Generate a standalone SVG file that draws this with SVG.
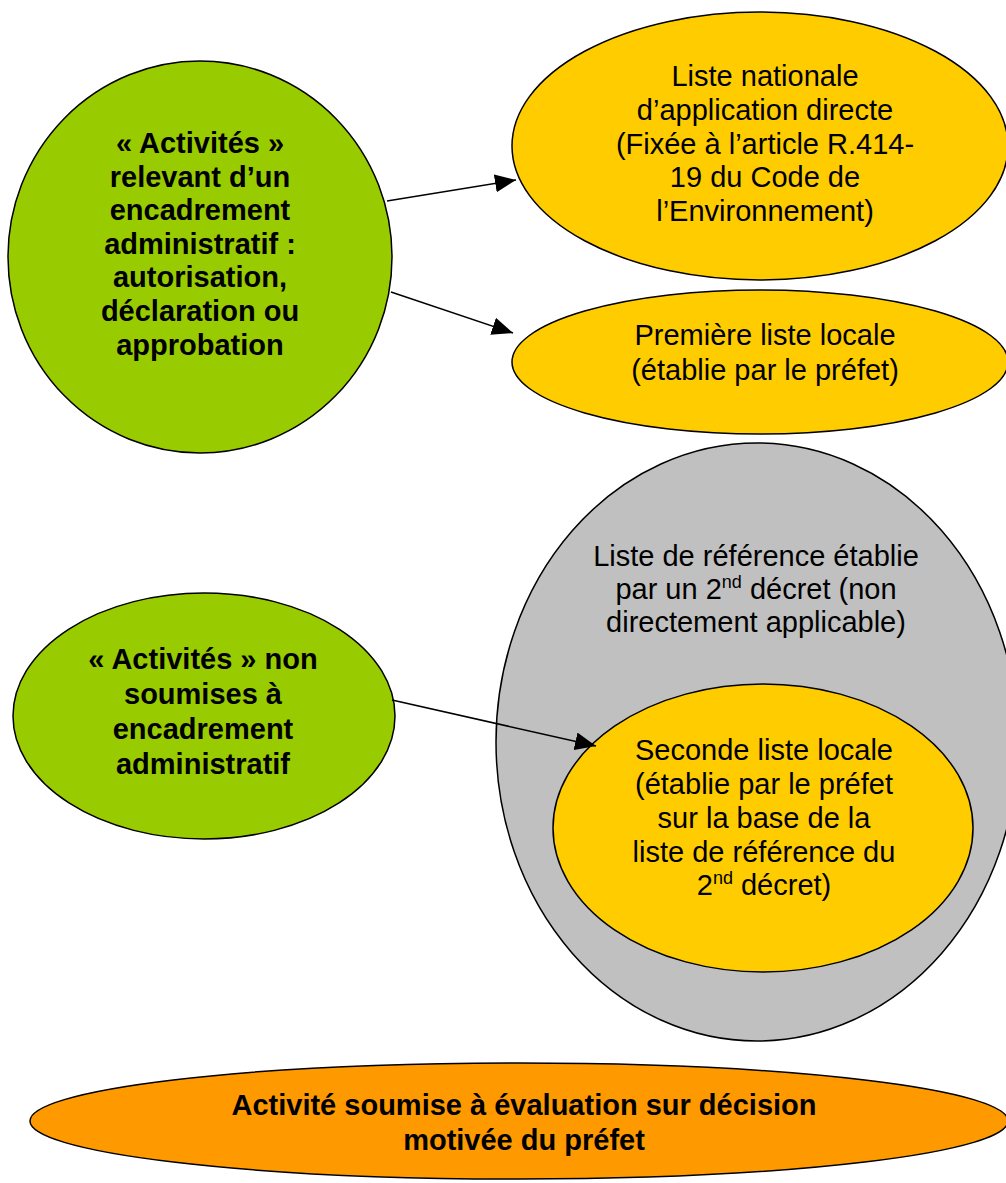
<svg xmlns="http://www.w3.org/2000/svg" width="1006" height="1183" viewBox="0 0 1006 1183">
<style>
.shape{stroke:#000;stroke-width:1.5}
.green{fill:#99CC00}
.yellow{fill:#FFCC00}
.gray{fill:#C0C0C0}
.orange{fill:#FF9900}
text{font-family:"Liberation Sans",Arial,sans-serif;font-size:29px;fill:#000;text-anchor:middle}
.b{font-weight:bold}
.conn{stroke:#000;stroke-width:1.5;fill:none}
</style>
<defs>
<marker id="arr" markerWidth="21" markerHeight="18" refX="21" refY="9" orient="auto" markerUnits="userSpaceOnUse">
<path d="M0,0 L21,9 L0,18 z" fill="#000"/>
</marker>
</defs>
<rect width="1006" height="1183" fill="#fff"/>
<g id="node-encadre">
<ellipse class="shape green" cx="200" cy="257" rx="192" ry="196"/>
<text class="b"><tspan x="200" y="153">« Activités »</tspan><tspan x="200" y="187">relevant d’un</tspan><tspan x="200" y="220">encadrement</tspan><tspan x="200" y="254">administratif :</tspan><tspan x="200" y="287">autorisation,</tspan><tspan x="200" y="321">déclaration ou</tspan><tspan x="200" y="355">approbation</tspan></text>
</g>
<g id="node-liste-nationale">
<ellipse class="shape yellow" cx="760" cy="146" rx="248" ry="134"/>
<text><tspan x="765" y="86">Liste nationale</tspan><tspan x="765" y="120">d’application directe</tspan><tspan x="765" y="154">(Fixée à l’article R.414-</tspan><tspan x="765" y="187">19 du Code de</tspan><tspan x="765" y="221">l’Environnement)</tspan></text>
</g>
<g id="node-premiere-liste">
<ellipse class="shape yellow" cx="760" cy="362" rx="248" ry="72"/>
<text><tspan x="765" y="345">Première liste locale</tspan><tspan x="765" y="380">(établie par le préfet)</tspan></text>
</g>
<g id="node-liste-reference">
<ellipse class="shape gray" cx="757" cy="742" rx="261" ry="299"/>
<text><tspan x="756" y="566">Liste de référence établie</tspan><tspan x="756" y="599">par un 2<tspan font-size="18" dy="-11">nd</tspan><tspan dy="11"> décret (non</tspan></tspan><tspan x="756" y="632">directement applicable)</tspan></text>
</g>
<g id="node-seconde-liste">
<ellipse class="shape yellow" cx="763" cy="828" rx="210" ry="144"/>
<text><tspan x="764" y="760">Seconde liste locale</tspan><tspan x="764" y="794">(établie par le préfet</tspan><tspan x="764" y="828">sur la base de la</tspan><tspan x="764" y="862">liste de référence du</tspan><tspan x="764" y="895">2<tspan font-size="18" dy="-11">nd</tspan><tspan dy="11"> décret)</tspan></tspan></text>
</g>
<g id="node-non-soumises">
<ellipse class="shape green" cx="204" cy="716" rx="191" ry="123"/>
<text class="b"><tspan x="203" y="669">« Activités » non</tspan><tspan x="203" y="704">soumises à</tspan><tspan x="203" y="739">encadrement</tspan><tspan x="203" y="774">administratif</tspan></text>
</g>
<g id="node-evaluation">
<ellipse class="shape orange" cx="519" cy="1121" rx="489" ry="58"/>
<text class="b"><tspan x="524" y="1115">Activité soumise à évaluation sur décision</tspan><tspan x="524" y="1150">motivée du préfet</tspan></text>
</g>
<g id="connectors">
<line class="conn" x1="387" y1="201" x2="516" y2="180" marker-end="url(#arr)"/>
<line class="conn" x1="391" y1="292" x2="513" y2="333" marker-end="url(#arr)"/>
<line class="conn" x1="392" y1="700" x2="596" y2="746" marker-end="url(#arr)"/>
</g>
</svg>
